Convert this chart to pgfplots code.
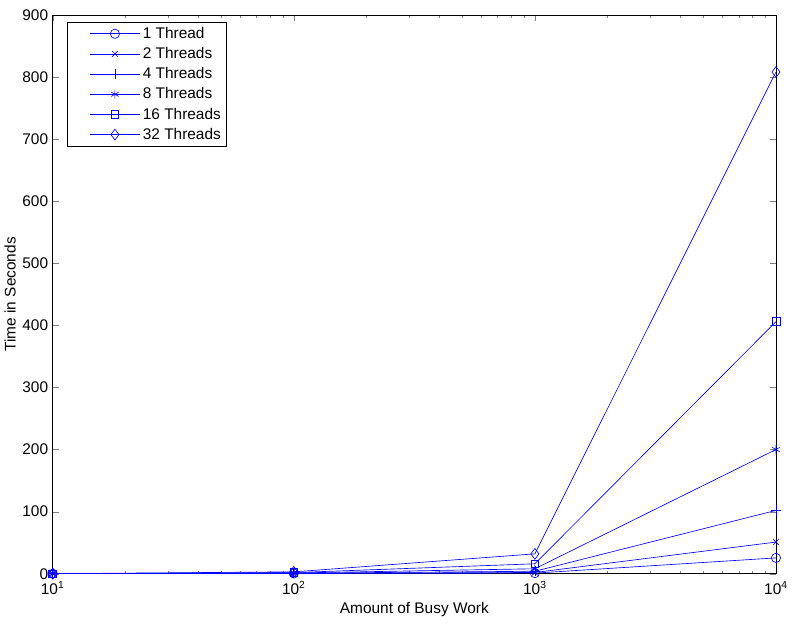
\documentclass[border=0pt]{standalone}
\usepackage{pgfplots}
\pgfplotsset{compat=1.18}
\usepackage{fontspec}
\setmainfont{Liberation Sans}
\begin{document}
\begin{tikzpicture}
\begin{axis}[
    scale only axis,
    width=563pt, height=435pt,
    xmode=log,
    xmin=10, xmax=10000,
    ymin=0, ymax=900,
    xtick={10,100,1000,10000},
    xticklabels={10\textsuperscript{1},10\textsuperscript{2},10\textsuperscript{3},10\textsuperscript{4}},
    ytick={0,100,...,900},
    /pgf/number format/assume math mode=true,
    tick label style={font=\fontsize{12}{14}\selectfont},
    xticklabel style={anchor=center, yshift=-11pt},
    label style={font=\fontsize{12}{14}\selectfont},
    major tick length=4.8pt,
    minor tick length=2.5pt,
    xlabel={Amount of Busy Work},
    ylabel={Time in Seconds},
    xlabel style={at={(axis description cs:0.5,-0.064)}, anchor=center},
    ylabel style={at={(axis description cs:-0.059,0.5)}, anchor=center},
    every axis plot/.append style={line width=0.5pt, mark options={solid, fill=none}},
    legend cell align=left,
    legend style={font=\fontsize{12}{14}\selectfont, at={(0.0193,0.9876)}, anchor=north west,
        draw=black, inner sep=2pt, row sep=1.5pt},
    legend image code/.code={
        \path (0cm,0cm);
        \draw[mark repeat=2,mark phase=2,#1] plot coordinates {(0.55cm,0cm)(1.235cm,0cm)(1.92cm,0cm)};
    },
]
\addplot[blue, mark=o, mark size=3.6pt] coordinates {(10,0.05) (100,0.4) (1000,1) (10000,25.5)};
\addlegendentry{1 Thread}
\addplot[blue, mark=x, mark size=3.2pt] coordinates {(10,0.05) (100,0.6) (1000,2) (10000,51)};
\addlegendentry{2 Threads}
\addplot[blue, mark=+, mark size=4pt] coordinates {(10,0.05) (100,0.8) (1000,4) (10000,102)};
\addlegendentry{4 Threads}
\addplot[blue, mark=asterisk, mark size=3.4pt] coordinates {(10,0.05) (100,1.2) (1000,8) (10000,200)};
\addlegendentry{8 Threads}
\addplot[blue, mark=square, mark size=3pt] coordinates {(10,0.05) (100,1.8) (1000,16) (10000,406)};
\addlegendentry{16 Threads}
\addplot[blue, mark=diamond, mark size=4.2pt] coordinates {(10,0.05) (100,3) (1000,32) (10000,808)};
\addlegendentry{32 Threads}
\end{axis}
\path (current axis.south west) ++(-41pt,-39.5pt);
\path (current axis.north east) ++(8.5pt,11.6pt);
\end{tikzpicture}
\end{document}
